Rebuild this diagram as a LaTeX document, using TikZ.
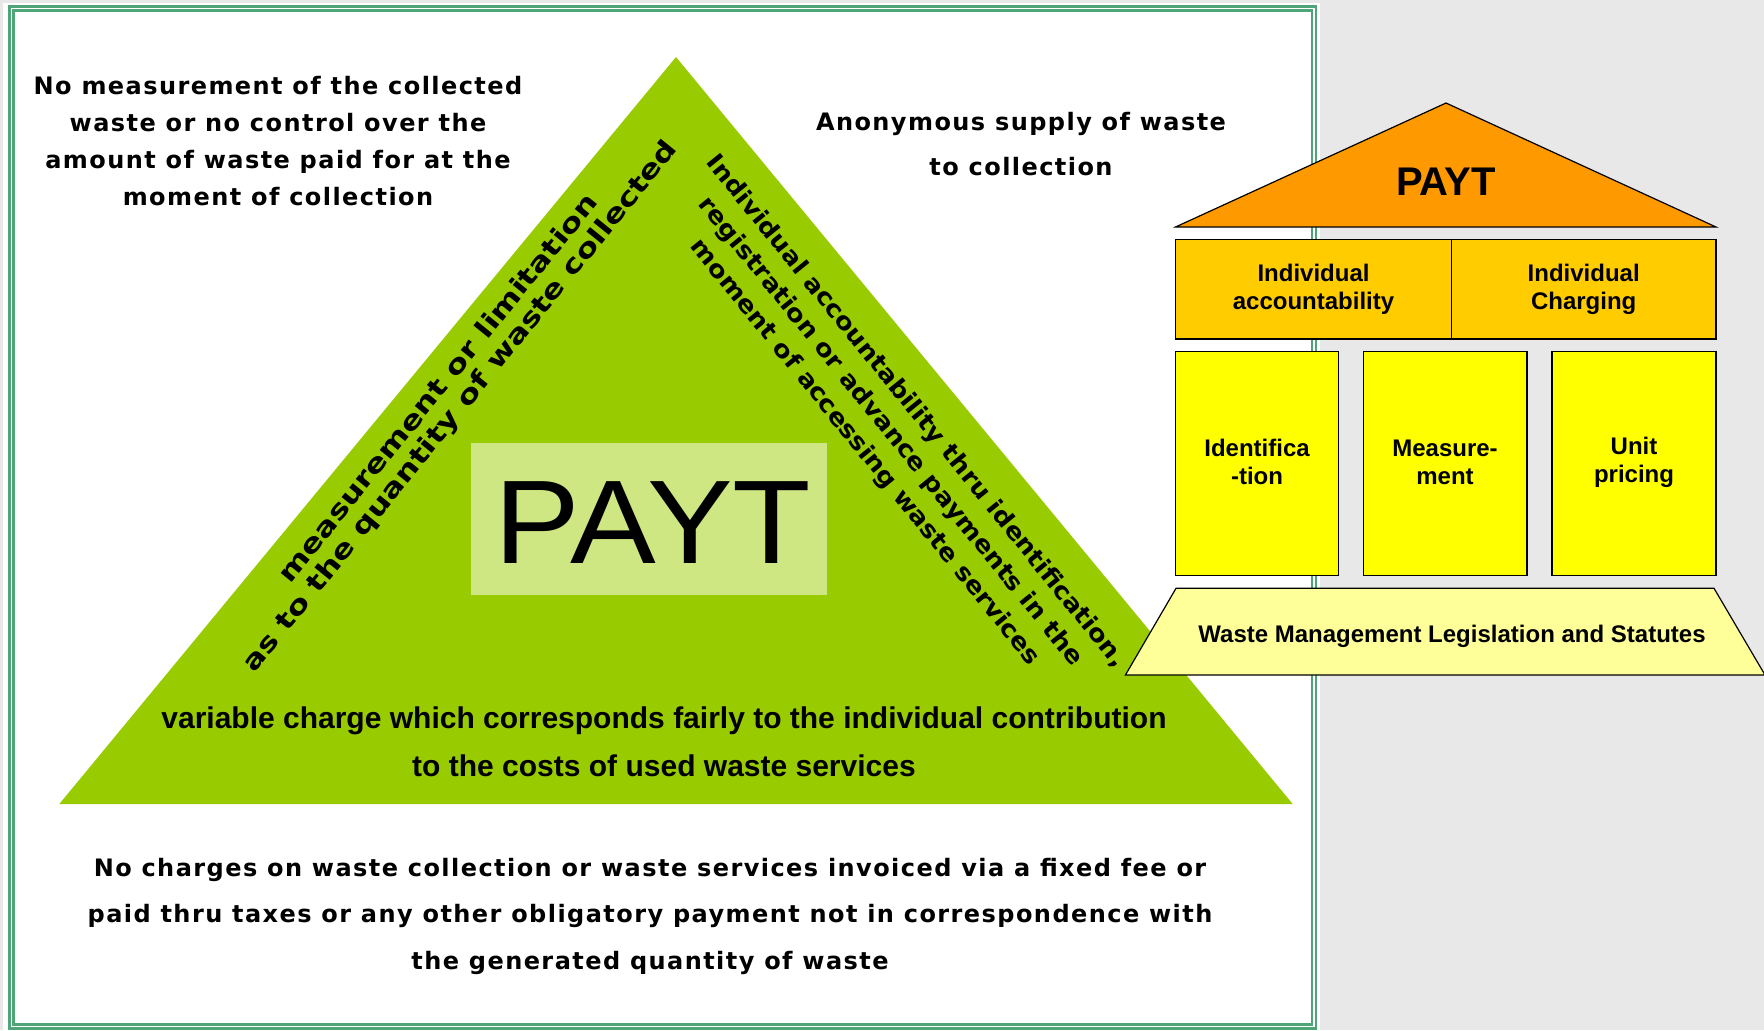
\documentclass[tikz,border=0pt]{standalone}
\usepackage{fontspec}
\usepackage{graphicx}
\setmainfont{Liberation Sans}
\newfontfamily\arialf{Liberation Sans}
\newfontfamily\panelf{DejaVu Sans}[LetterSpace=6]
\newfontfamily\slantf{DejaVu Sans}

\definecolor{bggrey}{RGB}{232,232,232}
\definecolor{framegreen}{RGB}{80,165,120}
\definecolor{leaf}{RGB}{153,204,0}
\definecolor{leaflight}{RGB}{206,231,130}
\definecolor{roofcol}{RGB}{255,153,0}
\definecolor{beamcol}{RGB}{255,204,0}
\definecolor{pillarcol}{RGB}{255,255,0}
\definecolor{plinthcol}{RGB}{255,255,153}

% several centred lines, stretched horizontally
\newcommand{\widelines}[2]{\scalebox{#1}[1]{\begin{tabular}{@{}c@{}}#2\end{tabular}}}

\begin{document}
\begin{tikzpicture}[x=0.5pt,y=-0.5pt,
  paneltext/.style={inner sep=0pt, align=center, text=black},
  slanttext/.style={inner sep=0pt, align=center, text=black},
  housetext/.style={inner sep=0pt, align=center, text=black,
    font={\arialf\bfseries\fontsize{12pt}{14pt}\selectfont}},
  housepart/.style={draw=black, line width=0.6pt}
]
\useasboundingbox (0,0) rectangle (1764,1030);

% page background and white panel with double green frame
\fill[bggrey] (0,0) rectangle (1764,1030);
\fill[white] (3,3) rectangle (1320,1030);
\draw[framegreen, line width=1.1pt] (9.5,6.5) rectangle (1316,1028.5);
\draw[framegreen, line width=1.1pt] (13.5,10.5) rectangle (1312,1024.5);

% the green triangle
\fill[leaf] (676,57) -- (1292.7,804) -- (59.3,804) -- cycle;

% central PAYT plate
\fill[leaflight] (470.7,442.7) rectangle (826.7,595);
\node[inner sep=0pt, font={\arialf\fontsize{59.5pt}{60pt}\selectfont}] (payt) at (653,522.5) {\scalebox{1.08}[1]{PAYT}};

% texts along the triangle sides
\node[slanttext, rotate=51, font={\slantf\bfseries\fontsize{13pt}{14pt}\selectfont}] (leftside) at (451,399)
  {\widelines{1.25}{measurement or limitation\\as to the quantity of waste collected}};
\node[slanttext, rotate=-51, font={\slantf\bfseries\fontsize{12pt}{16.3pt}\selectfont}] (rightside) at (890,432)
  {\widelines{1.09}{Individual accountability thru identification,\\registration or advance payments in the\\moment of accessing waste services}};

% text along the base
\node[slanttext, font={\arialf\bfseries\fontsize{15pt}{24pt}\selectfont}] (base) at (664,742)
  {variable charge which corresponds fairly to the individual contribution\\to the costs of used waste services};

% texts around the triangle
\node[paneltext, font={\panelf\bfseries\fontsize{12pt}{18.4pt}\selectfont}] (topleft) at (278,141)
  {No measurement of the collected\\waste or no control over the\\amount of waste paid for at the\\moment of collection};
\node[paneltext, font={\panelf\bfseries\fontsize{12pt}{22.5pt}\selectfont}] (topright) at (1021,144)
  {Anonymous supply of waste\\to collection};
\node[paneltext, font={\panelf\bfseries\fontsize{12pt}{23.25pt}\selectfont}] (bottom) at (650,916)
  {No charges on waste collection or waste services invoiced via a fixed fee or\\paid thru taxes or any other obligatory payment not in correspondence with\\the generated quantity of waste};

% the house: roof
\draw[housepart, fill=roofcol] (1175.5,227) -- (1446,103) -- (1716,227) -- cycle;
\node[inner sep=0pt, font={\arialf\bfseries\fontsize{20pt}{22pt}\selectfont}] (roof) at (1446,182) {PAYT};

% beam
\draw[housepart, fill=beamcol] (1175.5,239.3) rectangle (1451.5,339);
\draw[housepart, fill=beamcol] (1451.5,239.3) rectangle (1716,339);
\node[housetext] (acc) at (1313.5,289) {Individual\\accountability};
\node[housetext] (chg) at (1583.7,289) {Individual\\Charging};

% pillars
\draw[housepart, fill=pillarcol] (1175.5,351.5) rectangle (1338.7,575.3);
\draw[housepart, fill=pillarcol] (1363.4,351.5) rectangle (1527,575.3);
\draw[housepart, fill=pillarcol] (1552,351.5) rectangle (1716,575.3);
\node[housetext] (ident) at (1257,462) {Identifica\\-tion};
\node[housetext] (meas) at (1445,462) {Measure-\\ment};
\node[housetext] (unit) at (1634,462) {Unit\\pricing};

% foundation
\draw[housepart, fill=plinthcol] (1176,588.3) -- (1714,588.3) -- (1765,675) -- (1125.4,675) -- cycle;
\node[housetext] (law) at (1452,636) {Waste Management Legislation and Statutes};
\end{tikzpicture}
\end{document}
